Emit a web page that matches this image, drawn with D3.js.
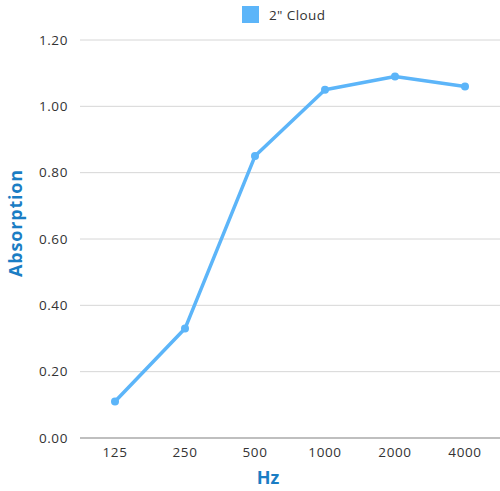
<!DOCTYPE html>
<html>
<head>
<meta charset="utf-8">
<script src="https://cdn.jsdelivr.net/npm/d3@7"></script>
<style>
  body { margin: 0; background: #fff; }
  text { font-family: "Open Sans", "DejaVu Sans", sans-serif; }
</style>
</head>
<body>
<div id="chart"></div>
<script>
// data
var freqs = ["125", "250", "500", "1000", "2000", "4000"];
var absorption = [0.11, 0.33, 0.85, 1.05, 1.09, 1.06];
var yTicks = [0, 0.2, 0.4, 0.6, 0.8, 1.0, 1.2];
var seriesName = "2\" Cloud";

var width = 500;
var height = 491;
// plot area edges
var plotLeft = 80, plotRight = 500, plotTop = 40, plotBottom = 438;
var lineColor = "#5cb5f9";
var titleColor = "#1a7dc4";

var svg = d3.select("#chart").append("svg")
  .attr("width", width)
  .attr("height", height);

var x = d3.scaleBand().domain(freqs).range([plotLeft, plotRight]);
var y = d3.scaleLinear().domain([0, 1.2]).range([plotBottom, plotTop]);

// grid lines
svg.append("g").selectAll("line")
  .data(yTicks)
  .enter().append("line")
  .attr("x1", plotLeft)
  .attr("x2", plotRight)
  .attr("y1", function(d) { return y(d); })
  .attr("y2", function(d) { return y(d); })
  .attr("stroke", function(d) { return d === 0 ? "#aaa" : "#d6d6d6"; })
  .attr("stroke-width", function(d) { return d === 0 ? 1.5 : 1; });

// y axis labels
var yAxis = d3.axisLeft(y).tickValues(yTicks).tickFormat(d3.format(".2f")).tickSize(0).tickPadding(12);
svg.append("g")
  .attr("transform", "translate(" + plotLeft + ",0)")
  .call(yAxis)
  .call(function(g) { g.select(".domain").remove(); })
  .selectAll("text")
  .attr("font-size", 13.5)
  .attr("letter-spacing", 0.6)
  .attr("fill", "#333")
  .style("font-family", "\"Open Sans\", sans-serif");

// x axis labels
var xAxis = d3.axisBottom(x).tickSize(0).tickPadding(9);
svg.append("g")
  .attr("transform", "translate(0," + plotBottom + ")")
  .call(xAxis)
  .call(function(g) { g.select(".domain").remove(); })
  .selectAll("text")
  .attr("font-size", 13.5)
  .attr("letter-spacing", 0.6)
  .attr("fill", "#333")
  .style("font-family", "\"Open Sans\", sans-serif");

// line
var line = d3.line()
  .x(function(d, i) { return x(freqs[i]) + x.bandwidth() / 2; })
  .y(function(d) { return y(d); });

svg.append("path")
  .datum(absorption)
  .attr("d", line)
  .attr("fill", "none")
  .attr("stroke", lineColor)
  .attr("stroke-width", 3.5)
  .attr("stroke-linejoin", "round");

svg.append("g").selectAll("circle")
  .data(absorption)
  .enter().append("circle")
  .attr("cx", function(d, i) { return x(freqs[i]) + x.bandwidth() / 2; })
  .attr("cy", function(d) { return y(d); })
  .attr("r", 4)
  .attr("fill", lineColor);

// legend
svg.append("rect")
  .attr("x", 242).attr("y", 6)
  .attr("width", 17).attr("height", 17)
  .attr("fill", lineColor);
svg.append("text")
  .attr("x", 269).attr("y", 20)
  .attr("font-size", 13.5)
  .attr("letter-spacing", 0.4)
  .attr("fill", "#333")
  .text(seriesName);

// axis titles
svg.append("text")
  .attr("x", 268).attr("y", 484)
  .attr("text-anchor", "middle")
  .attr("font-size", 18)
  .attr("font-weight", "bold")
  .attr("fill", titleColor)
  .text("Hz");

svg.append("text")
  .attr("transform", "translate(22,223)rotate(-90)")
  .attr("text-anchor", "middle")
  .attr("font-size", 18)
  .attr("font-weight", "bold")
  .attr("letter-spacing", 0.8)
  .attr("fill", titleColor)
  .text("Absorption");
</script>
</body>
</html>
